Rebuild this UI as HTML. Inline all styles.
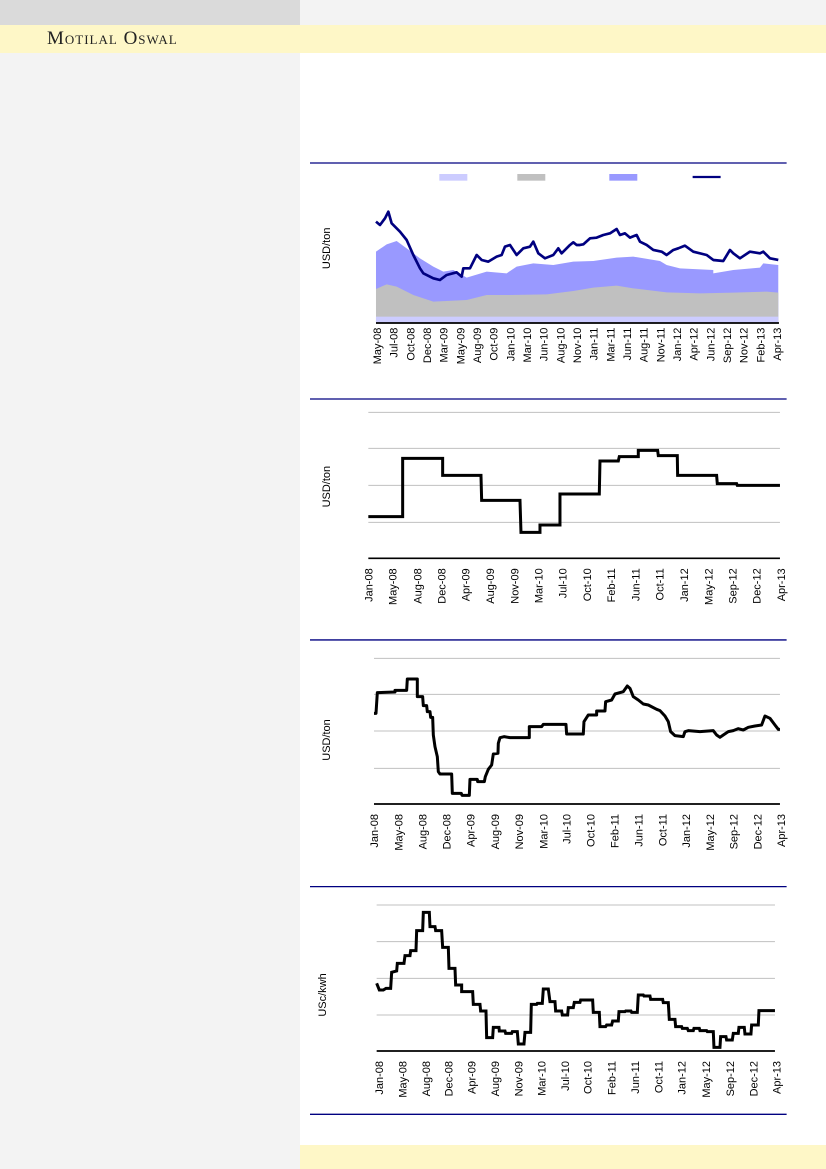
<!DOCTYPE html>
<html><head><meta charset="utf-8"><style>
html,body{margin:0;padding:0;}
body{width:826px;height:1169px;position:relative;background:#fff;overflow:hidden;font-family:"Liberation Sans",sans-serif;}
.a{position:absolute;}
</style></head><body>
<div class="a" style="left:0;top:0;width:300px;height:1169px;background:#f3f3f3"></div>
<div class="a" style="left:0;top:0;width:300px;height:25px;background:#dadada"></div>
<div class="a" style="left:300px;top:0;width:526px;height:25px;background:#f3f3f3"></div>
<div class="a" style="left:0;top:25px;width:826px;height:28px;background:#fef7c7"></div>
<div class="a" style="left:300px;top:1145px;width:526px;height:24px;background:#fef7c7"></div>
<div class="a" style="left:47px;top:28px;font-family:'Liberation Serif',serif;font-size:19px;font-variant:small-caps;letter-spacing:1px;color:#222">Motilal Oswal</div>
<svg class="a" style="left:0;top:0" width="826" height="1169" font-family="Liberation Sans, sans-serif">
<!-- Chart 1 -->
<g transform="translate(300,155) scale(0.3333)">
<line x1="30" y1="24" x2="1460" y2="24" stroke="#000080" stroke-width="4"/>
<rect x="418" y="57" width="84" height="20" fill="#ccccff"/>
<rect x="652" y="57" width="84" height="20" fill="#c0c0c0"/>
<rect x="928" y="57" width="84" height="20" fill="#9999ff"/>
<line x1="1178" y1="66" x2="1262" y2="66" stroke="#000080" stroke-width="7"/>
<polygon fill="#9999ff" points="228,290 260,268 290,258 320,280 360,310 400,335 430,350 460,345 500,368 560,350 620,355 650,335 700,325 760,330 820,320 880,318 950,308 1000,305 1080,318 1100,330 1140,340 1240,345 1240,355 1300,345 1380,338 1390,325 1435,330 1435,503 228,503"/>
<polygon fill="#c0c0c0" points="228,402 260,388 290,395 340,420 400,440 500,435 560,420 630,420 740,418 820,408 880,398 950,392 1000,400 1100,412 1200,415 1300,413 1400,410 1435,413 1435,503 228,503"/>
<rect x="228" y="485" width="1207" height="18" fill="#ccccff"/>
<polyline fill="none" stroke="#000080" stroke-width="8" stroke-linejoin="round" points="228,200 240,210 255,190 265,170 275,205 300,230 320,255 340,300 360,340 370,355 400,370 420,375 440,360 470,352 485,365 490,340 510,340 530,300 545,315 565,320 590,305 605,300 615,275 630,270 650,300 670,280 690,275 700,260 715,295 735,310 760,300 775,280 785,295 810,270 820,262 830,270 840,270 850,268 870,250 890,248 910,240 930,235 950,222 960,240 975,235 990,248 1010,240 1020,260 1040,270 1060,285 1085,290 1100,300 1120,285 1135,280 1155,272 1180,290 1220,300 1240,315 1270,318 1290,285 1300,295 1320,310 1350,290 1380,295 1390,290 1410,310 1435,315"/>
<line x1="228" y1="504" x2="1437" y2="504" stroke="#000" stroke-width="5"/>
<text transform="translate(90,280) rotate(-90)" text-anchor="middle" font-size="33" fill="#000">USD/ton</text>
<g font-size="33" fill="#000" text-anchor="end">
<text transform="translate(243,518) rotate(-90)">May-08</text>
<text transform="translate(293,518) rotate(-90)">Jul-08</text>
<text transform="translate(343,518) rotate(-90)">Oct-08</text>
<text transform="translate(393,518) rotate(-90)">Dec-08</text>
<text transform="translate(443,518) rotate(-90)">Mar-09</text>
<text transform="translate(493,518) rotate(-90)">May-09</text>
<text transform="translate(543,518) rotate(-90)">Aug-09</text>
<text transform="translate(593,518) rotate(-90)">Oct-09</text>
<text transform="translate(643,518) rotate(-90)">Jan-10</text>
<text transform="translate(693,518) rotate(-90)">Mar-10</text>
<text transform="translate(743,518) rotate(-90)">Jun-10</text>
<text transform="translate(793,518) rotate(-90)">Aug-10</text>
<text transform="translate(843,518) rotate(-90)">Nov-10</text>
<text transform="translate(893,518) rotate(-90)">Jan-11</text>
<text transform="translate(943,518) rotate(-90)">Mar-11</text>
<text transform="translate(993,518) rotate(-90)">Jun-11</text>
<text transform="translate(1043,518) rotate(-90)">Aug-11</text>
<text transform="translate(1093,518) rotate(-90)">Nov-11</text>
<text transform="translate(1143,518) rotate(-90)">Jan-12</text>
<text transform="translate(1193,518) rotate(-90)">Apr-12</text>
<text transform="translate(1243,518) rotate(-90)">Jun-12</text>
<text transform="translate(1293,518) rotate(-90)">Sep-12</text>
<text transform="translate(1343,518) rotate(-90)">Nov-12</text>
<text transform="translate(1393,518) rotate(-90)">Feb-13</text>
<text transform="translate(1443,518) rotate(-90)">Apr-13</text>
</g>
</g>
<!-- Chart 2 -->
<g transform="translate(300,395) scale(0.3333)">
<line x1="30" y1="12" x2="1460" y2="12" stroke="#000080" stroke-width="4"/>
<g stroke="#c0c0c0" stroke-width="3"><line x1="205" y1="52" x2="1440" y2="52"/><line x1="205" y1="160" x2="1440" y2="160"/><line x1="205" y1="271" x2="1440" y2="271"/><line x1="205" y1="382" x2="1440" y2="382"/></g>
<line x1="205" y1="490" x2="1440" y2="490" stroke="#000" stroke-width="5"/>
<polyline fill="none" stroke="#000" stroke-width="9" points="205,365 308,365 308,190 428,190 428,241 543,241 545,316 660,316 663,412 720,412 720,390 780,390 780,297 898,297 900,198 955,198 958,185 1015,185 1015,166 1073,166 1075,182 1132,182 1133,241 1250,241 1252,266 1310,266 1312,271 1440,271"/>
<text transform="translate(90,275) rotate(-90)" text-anchor="middle" font-size="33">USD/ton</text>
<g font-size="33" text-anchor="end">
<text transform="translate(217,520) rotate(-90)">Jan-08</text>
<text transform="translate(290,520) rotate(-90)">May-08</text>
<text transform="translate(364,520) rotate(-90)">Aug-08</text>
<text transform="translate(437,520) rotate(-90)">Dec-08</text>
<text transform="translate(509,520) rotate(-90)">Apr-09</text>
<text transform="translate(582,520) rotate(-90)">Aug-09</text>
<text transform="translate(655,520) rotate(-90)">Nov-09</text>
<text transform="translate(727,520) rotate(-90)">Mar-10</text>
<text transform="translate(800,520) rotate(-90)">Jul-10</text>
<text transform="translate(873,520) rotate(-90)">Oct-10</text>
<text transform="translate(945,520) rotate(-90)">Feb-11</text>
<text transform="translate(1018,520) rotate(-90)">Jun-11</text>
<text transform="translate(1091,520) rotate(-90)">Oct-11</text>
<text transform="translate(1164,520) rotate(-90)">Jan-12</text>
<text transform="translate(1237,520) rotate(-90)">May-12</text>
<text transform="translate(1310,520) rotate(-90)">Sep-12</text>
<text transform="translate(1382,520) rotate(-90)">Dec-12</text>
<text transform="translate(1455,520) rotate(-90)">Apr-13</text>
</g>
<line x1="30" y1="735" x2="1460" y2="735" stroke="#000080" stroke-width="4"/>
</g>
<!-- Chart 3 -->
<g transform="translate(300,640) scale(0.3333)">
<g stroke="#c0c0c0" stroke-width="3"><line x1="222" y1="55" x2="1440" y2="55"/><line x1="222" y1="163" x2="1440" y2="163"/><line x1="222" y1="273" x2="1440" y2="273"/><line x1="222" y1="385" x2="1440" y2="385"/></g>
<line x1="222" y1="492" x2="1440" y2="492" stroke="#000" stroke-width="5"/>
<polyline fill="none" stroke="#000" stroke-width="9" stroke-linejoin="round" points="222,220 228,220 232,158 285,156 285,151 320,151 322,117 352,117 352,170 368,170 370,197 380,197 382,215 390,215 392,232 398,232 400,285 405,320 412,350 415,395 420,402 455,402 457,460 484,460 486,466 508,466 510,418 532,418 533,425 553,425 556,410 565,388 575,375 580,342 594,340 595,310 600,293 612,290 630,293 688,293 688,260 725,260 730,253 798,253 800,282 850,282 852,245 865,225 890,225 890,213 915,213 917,185 935,180 945,162 970,155 982,138 990,145 1000,170 1015,180 1030,192 1045,195 1070,208 1080,212 1095,228 1105,245 1112,275 1125,287 1150,290 1155,275 1165,272 1200,275 1240,272 1250,285 1260,292 1270,285 1285,275 1300,272 1315,266 1330,270 1345,262 1365,258 1385,255 1395,228 1410,235 1425,255 1435,268 1440,268"/>
<text transform="translate(90,300) rotate(-90)" text-anchor="middle" font-size="33">USD/ton</text>
<g font-size="33" text-anchor="end">
<text transform="translate(234,522) rotate(-90)">Jan-08</text>
<text transform="translate(307,522) rotate(-90)">May-08</text>
<text transform="translate(380,522) rotate(-90)">Aug-08</text>
<text transform="translate(452,522) rotate(-90)">Dec-08</text>
<text transform="translate(524,522) rotate(-90)">Apr-09</text>
<text transform="translate(597,522) rotate(-90)">Aug-09</text>
<text transform="translate(669,522) rotate(-90)">Nov-09</text>
<text transform="translate(742,522) rotate(-90)">Mar-10</text>
<text transform="translate(812,522) rotate(-90)">Jul-10</text>
<text transform="translate(884,522) rotate(-90)">Oct-10</text>
<text transform="translate(955,522) rotate(-90)">Feb-11</text>
<text transform="translate(1027,522) rotate(-90)">Jun-11</text>
<text transform="translate(1099,522) rotate(-90)">Oct-11</text>
<text transform="translate(1170,522) rotate(-90)">Jan-12</text>
<text transform="translate(1242,522) rotate(-90)">May-12</text>
<text transform="translate(1312,522) rotate(-90)">Sep-12</text>
<text transform="translate(1384,522) rotate(-90)">Dec-12</text>
<text transform="translate(1455,522) rotate(-90)">Apr-13</text>
</g>
<line x1="30" y1="740" x2="1460" y2="740" stroke="#000080" stroke-width="4"/>
</g>
<!-- Chart 4 -->
<g transform="translate(300,885) scale(0.3333)">
<g stroke="#c0c0c0" stroke-width="3"><line x1="230" y1="60" x2="1425" y2="60"/><line x1="230" y1="170" x2="1425" y2="170"/><line x1="230" y1="280" x2="1425" y2="280"/><line x1="230" y1="390" x2="1425" y2="390"/></g>
<line x1="230" y1="498" x2="1425" y2="498" stroke="#000" stroke-width="5"/>
<polyline fill="none" stroke="#000" stroke-width="9" points="230,295 238,315 250,315 258,310 272,310 275,262 290,258 292,235 312,235 315,212 330,212 332,197 348,197 350,137 368,137 370,82 388,82 390,125 405,125 407,137 425,137 428,187 445,187 447,250 465,250 467,300 485,300 485,320 518,320 520,358 540,358 542,378 558,378 560,458 578,458 580,427 597,427 598,438 615,438 617,445 635,445 637,440 652,440 655,477 672,477 675,442 692,442 694,358 710,358 712,355 727,355 730,312 745,312 750,350 765,350 767,378 785,378 787,390 803,390 805,368 820,368 823,352 840,352 842,345 878,345 880,382 898,382 900,425 917,425 920,420 935,420 938,408 955,408 957,380 975,380 977,378 993,378 995,382 1012,382 1015,330 1030,330 1032,333 1050,333 1052,343 1088,343 1090,353 1105,353 1108,403 1125,403 1127,425 1145,425 1147,430 1162,430 1165,437 1180,437 1182,430 1198,430 1200,437 1220,437 1222,440 1240,440 1242,487 1260,487 1262,455 1278,455 1280,465 1297,465 1300,445 1315,445 1317,427 1333,427 1335,447 1353,447 1355,420 1375,420 1377,377 1425,377"/>
<text transform="translate(78,330) rotate(-90)" text-anchor="middle" font-size="33">USc/kwh</text>
<g font-size="33" text-anchor="end">
<text transform="translate(249,528) rotate(-90)">Jan-08</text>
<text transform="translate(320,528) rotate(-90)">May-08</text>
<text transform="translate(390,528) rotate(-90)">Aug-08</text>
<text transform="translate(457,528) rotate(-90)">Dec-08</text>
<text transform="translate(527,528) rotate(-90)">Apr-09</text>
<text transform="translate(597,528) rotate(-90)">Aug-09</text>
<text transform="translate(667,528) rotate(-90)">Nov-09</text>
<text transform="translate(737,528) rotate(-90)">Mar-10</text>
<text transform="translate(807,528) rotate(-90)">Jul-10</text>
<text transform="translate(874,528) rotate(-90)">Oct-10</text>
<text transform="translate(947,528) rotate(-90)">Feb-11</text>
<text transform="translate(1017,528) rotate(-90)">Jun-11</text>
<text transform="translate(1087,528) rotate(-90)">Oct-11</text>
<text transform="translate(1157,528) rotate(-90)">Jan-12</text>
<text transform="translate(1230,528) rotate(-90)">May-12</text>
<text transform="translate(1302,528) rotate(-90)">Sep-12</text>
<text transform="translate(1372,528) rotate(-90)">Dec-12</text>
<text transform="translate(1442,528) rotate(-90)">Apr-13</text>
</g>
<line x1="30" y1="688" x2="1460" y2="688" stroke="#000080" stroke-width="4"/>
</g>
</svg>
</body></html>
